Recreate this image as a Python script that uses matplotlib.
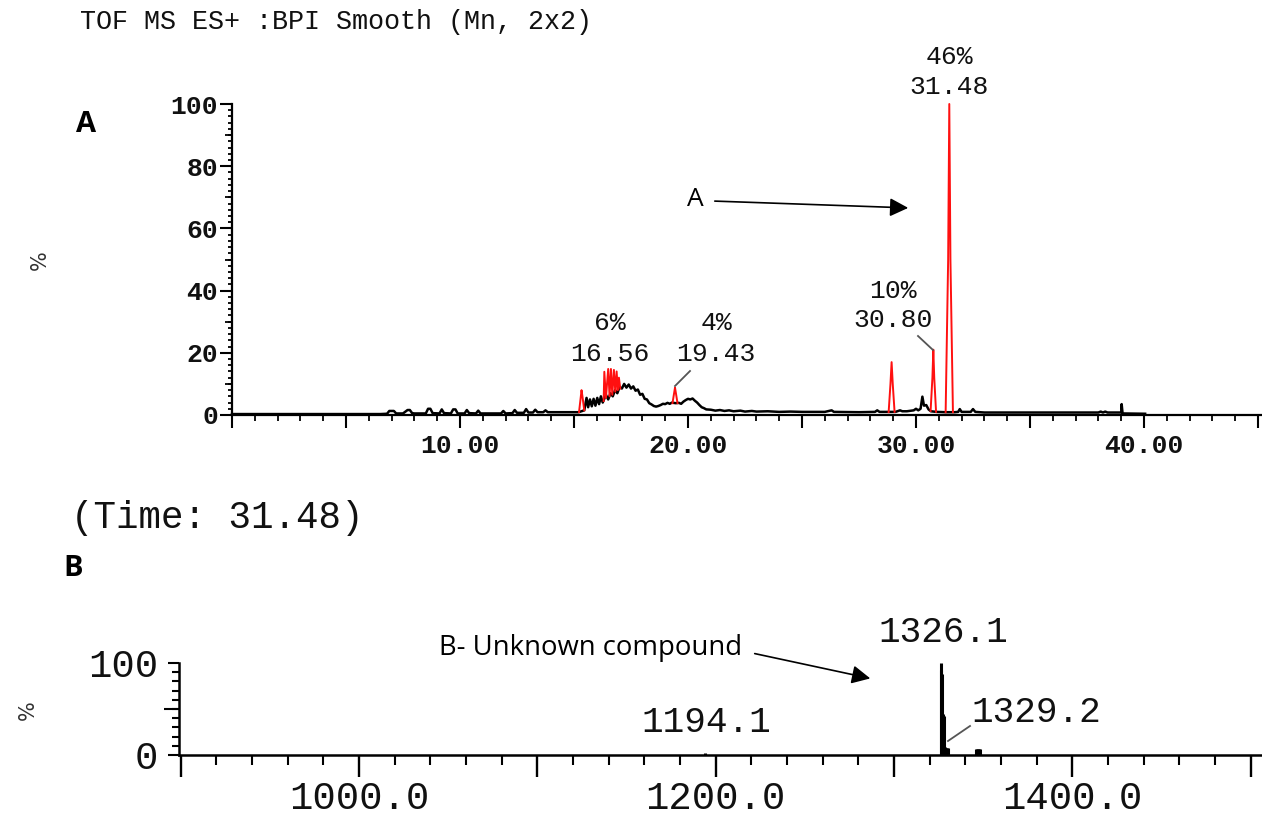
import matplotlib
matplotlib.use("Agg")
import matplotlib.pyplot as plt
from matplotlib.ticker import MultipleLocator, FuncFormatter, FixedLocator
from matplotlib.patches import FancyArrowPatch

# ---------------- data: panel A (chromatogram, BPI) ----------------
t_black = [0.0, 6.5, 6.8, 6.9, 7.1, 7.2, 7.5, 7.7, 7.8, 7.9, 8.0, 8.5, 8.6, 8.7, 8.8,
           9.1, 9.2, 9.3, 9.6, 9.7, 9.8, 9.9, 10.2, 10.3, 10.4, 10.7, 10.8, 10.9,
           11.2, 11.8, 11.9, 12.0, 12.3, 12.4, 12.5, 12.8, 12.9, 13.0, 13.2, 13.3,
           13.4, 13.65, 13.75, 13.85, 15.2, 15.45, 15.55, 15.62, 15.70, 15.78, 15.86,
           15.94, 16.02, 16.10, 16.18, 16.26, 16.4, 16.5, 16.6, 16.7, 16.8, 16.9, 17.0,
           17.1, 17.2, 17.3, 17.4, 17.5, 17.6, 17.7, 17.8, 17.9, 18.0, 18.1, 18.2, 18.3,
           18.4, 18.5, 18.6, 18.7, 18.8, 18.9, 19.0, 19.1, 19.2, 19.3, 19.45, 19.6, 19.7,
           19.8, 19.9, 20.0, 20.1, 20.2, 20.3, 20.4, 20.5, 20.6, 20.7, 20.8, 21.0, 21.2,
           21.4, 21.6, 21.8, 22.0, 22.3, 22.5, 22.8, 23.0, 23.5, 24.0, 24.5, 25.0, 26.0,
           26.3, 26.4, 27.5, 28.2, 28.3, 28.4, 28.8, 29.1, 29.3, 29.4, 29.6, 29.9, 30.0,
           30.1, 30.2, 30.28, 30.35, 30.45, 30.55, 30.65, 30.9, 31.3, 31.7, 31.85, 31.92,
           32.0, 32.4, 32.5, 32.6, 33.0, 38.0, 38.1, 38.2, 38.3, 38.4, 39.0, 39.02, 39.06,
           40.05]
y_black = [0.3, 0.3, 0.4, 1.3, 1.3, 0.5, 0.5, 1.6, 1.6, 0.6, 0.5, 0.5, 2.0, 2.0, 0.6,
           0.5, 1.8, 0.6, 0.5, 1.8, 1.8, 0.5, 0.5, 1.6, 0.6, 0.5, 1.4, 0.5,
           0.5, 0.5, 1.3, 0.5, 0.6, 1.6, 0.7, 0.7, 1.9, 0.8, 0.8, 1.7,
           0.9, 0.9, 1.5, 0.9, 0.9, 1.5, 5.5, 2.5, 5.0, 2.8, 5.2,
           3.0, 5.5, 3.5, 6.0, 4.0, 6.5, 5.0, 7.0, 6.0, 8.0, 7.0, 9.0,
           8.5, 10.0, 8.8, 9.8, 8.5, 9.2, 7.8, 8.2, 6.5, 6.8, 5.2, 5.0, 3.8,
           3.4, 2.9, 2.7, 2.9, 3.2, 3.6, 3.5, 3.9, 3.6, 4.0, 3.8, 3.9, 3.6,
           4.3, 4.8, 5.2, 5.0, 5.3, 4.6, 4.0, 3.2, 2.5, 2.2, 1.8, 1.7, 1.4,
           1.6, 1.3, 1.5, 1.2, 1.4, 1.1, 1.3, 1.1, 1.2, 1.0, 1.1, 1.0, 1.0,
           1.5, 1.0, 0.9, 1.0, 1.5, 1.0, 1.0, 1.0, 1.5, 1.2, 1.2, 1.5, 2.0,
           1.5, 2.0, 5.9, 3.0, 3.2, 1.8, 1.2, 1.0, 0.9, 0.9, 1.0, 1.9,
           1.0, 1.0, 1.9, 1.0, 0.8, 0.8, 1.1, 0.8, 1.1, 0.8, 0.8, 3.5, 0.5,
           0.4]

# identified (red) peaks
red_t1 = [15.22, 15.30, 15.33, 15.37, 15.45]
red_y1 = [0.9, 6.0, 8.0, 6.0, 1.5]
red_t2 = [16.30, 16.33, 16.40, 16.50, 16.56, 16.62, 16.68, 16.75, 16.81, 16.87, 16.92, 16.97, 17.03]
red_y2 = [4.5, 13.9, 5.5, 14.8, 6.0, 14.8, 6.5, 14.5, 7.5, 14.0, 8.0, 12.0, 8.5]
red_t3 = [19.32, 19.39, 19.43, 19.47, 19.54]
red_y3 = [3.8, 7.0, 8.8, 7.0, 3.8]
red_t4 = [28.80, 28.88, 28.93, 28.98, 29.06]
red_y4 = [0.9, 10.0, 17.0, 10.0, 1.0]
red_t5 = [30.64, 30.72, 30.76, 30.80, 30.88]
red_y5 = [1.3, 12.0, 21.0, 12.0, 1.0]
red_t6 = [31.30, 31.41, 31.46, 31.51, 31.62]
red_y6 = [0.9, 50.0, 100.0, 50.0, 0.9]
red_t = [red_t1, red_t2, red_t3, red_t4, red_t5, red_t6]
red_y = [red_y1, red_y2, red_y3, red_y4, red_y5, red_y6]

peak_pct = ["6%", "4%", "10%", "46%"]
peak_rt = ["16.56", "19.43", "30.80", "31.48"]

# ---------------- data: panel B (mass spectrum at 31.48 min) ----------------
mz_vals = [1194.1, 1326.1, 1326.6, 1327.1, 1327.6, 1328.1, 1328.6, 1329.2, 1329.8, 1330.4,
           1346.0, 1346.5, 1347.0, 1347.5, 1348.0]
mz_int = [2.5, 100, 92, 88, 45, 42, 9, 8, 8, 8,
          7, 7, 7, 7, 7]
mz_labels = ["1194.1", "1326.1", "1329.2"]

# ---------------- figure ----------------
W, H = 1262, 825
fig = plt.figure(figsize=(W / 100, H / 100), dpi=100)


def P(x, y):
    return (x / W, 1 - y / H)


MONO = "Liberation Mono"
SANS = "Open Sans"
INK = "#111111"

# ---- panel A axes ----
axA = fig.add_axes([232 / W, 1 - 415 / H, (1262 - 232) / W, 311 / H])
axA.plot(t_black, y_black, color="black", lw=1.8, clip_on=False, zorder=2)
for tt, yy in zip(red_t, red_y):
    axA.plot(tt, yy, color="#ff1010", lw=1.4, clip_on=False, zorder=3)
axA.set_xlim(0, 1030 / 22.8)
axA.set_ylim(0, 100)
for s in ("top", "right"):
    axA.spines[s].set_visible(False)
axA.spines["left"].set_linewidth(1.6)
axA.spines["bottom"].set_linewidth(1.6)
axA.xaxis.set_major_locator(MultipleLocator(5))
axA.xaxis.set_minor_locator(MultipleLocator(1))
axA.xaxis.set_major_formatter(FuncFormatter(
    lambda v, p: f"{v:.2f}" if (abs(v % 10) < 1e-6 and v > 0) else ""))
axA.yaxis.set_major_locator(MultipleLocator(20))
axA.yaxis.set_minor_locator(MultipleLocator(2))
axA.yaxis.set_major_formatter(FuncFormatter(lambda v, p: f"{v:.0f}"))
axA.tick_params(axis="x", which="major", length=9, width=1.5, direction="out", pad=5)
axA.tick_params(axis="x", which="minor", length=4.5, width=1.3, direction="out")
axA.tick_params(axis="y", which="major", length=9, width=1.5, direction="out", pad=1)
axA.tick_params(axis="y", which="minor", length=3, width=1.3, direction="out")
for lab in axA.get_xticklabels() + axA.get_yticklabels():
    lab.set_fontfamily(MONO)
    lab.set_fontweight("bold")
    lab.set_fontsize(19)
    lab.set_color(INK)
secA = axA.secondary_yaxis("left")
secA.yaxis.set_major_locator(FixedLocator([10, 30, 50, 70, 90]))
secA.tick_params(length=5, width=1.3, labelleft=False)
secA.spines["left"].set_visible(False)

# ---- panel B axes ----
axB = fig.add_axes([179 / W, 1 - 755 / H, (1262 - 179) / W, 92 / H])
axB.vlines(mz_vals, 0, mz_int, color="black", lw=2.2, clip_on=False)
axB.set_xlim(899, 899 + 1083 / 1.783)
axB.set_ylim(0, 100)
for s in ("top", "right"):
    axB.spines[s].set_visible(False)
axB.spines["left"].set_linewidth(1.8)
axB.spines["bottom"].set_linewidth(1.8)
axB.xaxis.set_major_locator(MultipleLocator(100))
axB.xaxis.set_minor_locator(MultipleLocator(20))
axB.xaxis.set_major_formatter(FuncFormatter(
    lambda v, p: f"{v:.1f}" if abs(v % 200) < 1e-6 else ""))
axB.yaxis.set_major_locator(FixedLocator([0, 100]))
axB.yaxis.set_minor_locator(MultipleLocator(10))
axB.yaxis.set_major_formatter(FuncFormatter(lambda v, p: f"{v:.0f}"))
axB.tick_params(axis="x", which="major", length=16, width=1.7, direction="out", pad=3)
axB.tick_params(axis="x", which="minor", length=7, width=1.5, direction="out")
axB.tick_params(axis="y", which="major", length=8, width=1.5, direction="out", pad=7)
axB.tick_params(axis="y", which="minor", length=5, width=1.5, direction="out")
for lab in axB.get_xticklabels() + axB.get_yticklabels():
    lab.set_fontfamily(MONO)
    lab.set_fontsize(28)
    lab.set_color(INK)
secB = axB.secondary_yaxis("left")
secB.yaxis.set_major_locator(FixedLocator([50]))
secB.tick_params(length=11, width=1.5, labelleft=False)
secB.spines["left"].set_visible(False)

# ---- texts ----
fig.text(*P(80, 22), "TOF MS ES+ :BPI Smooth (Mn, 2x2)", family=MONO, fontsize=19.3,
         color=INK, ha="left", va="center")
fig.text(*P(86, 125), "A", family=SANS, fontweight="bold", fontsize=21, ha="center", va="center")
fig.text(*P(73, 568), "B", family=SANS, fontweight="bold", fontsize=21, ha="center", va="center")
fig.text(*P(40, 260), "%", family="DejaVu Sans", fontsize=15, rotation=90, color="#333333",
         ha="center", va="center")
fig.text(*P(28, 710), "%", family="DejaVu Sans", fontsize=15, rotation=90, color="#333333",
         ha="center", va="center")
fig.text(*P(217, 518), "(Time: 31.48)", family=MONO, fontsize=27, color=INK,
         ha="center", va="center")

# peak labels panel A
peak_pos = [(610, 323, 354), (716, 323, 354), (893, 291, 320), (949, 57, 87)]
for (x, y1, y2), pct, rt in zip(peak_pos, peak_pct, peak_rt):
    fig.text(*P(x, y1), pct, family=MONO, fontsize=19, color=INK, ha="center", va="center")
    fig.text(*P(x, y2), rt, family=MONO, fontsize=19, color=INK, ha="center", va="center")

# leader lines
for (x0, y0, x1, y1) in [(690, 371, 675, 386), (918, 336, 933, 350), (948, 741, 970, 726)]:
    fig.add_artist(plt.Line2D([x0 / W, x1 / W], [1 - y0 / H, 1 - y1 / H],
                              color="#555555", lw=1.3))

# mass labels panel B
for (x, y), lab in zip([(706, 722), (943, 633), (1036, 712)], mz_labels):
    fig.text(*P(x, y), lab, family=MONO, fontsize=26, color=INK, ha="center", va="center")

# annotations with arrows
fig.text(*P(695, 200), "A", family=SANS, fontsize=19, ha="center", va="center")
fig.add_artist(FancyArrowPatch(P(712, 201), P(911, 208), transform=fig.transFigure,
                               arrowstyle="-|>,head_length=0.8,head_width=0.4",
                               mutation_scale=14, color="black", lw=1.2))
fig.text(*P(591, 648), "B- Unknown compound", family=SANS, fontsize=19.8, ha="center", va="center")
fig.add_artist(FancyArrowPatch(P(752, 653), P(873, 679), transform=fig.transFigure,
                               arrowstyle="-|>,head_length=0.8,head_width=0.4",
                               mutation_scale=14, color="black", lw=1.2))

fig.savefig("out.png", dpi=100, facecolor="white")
